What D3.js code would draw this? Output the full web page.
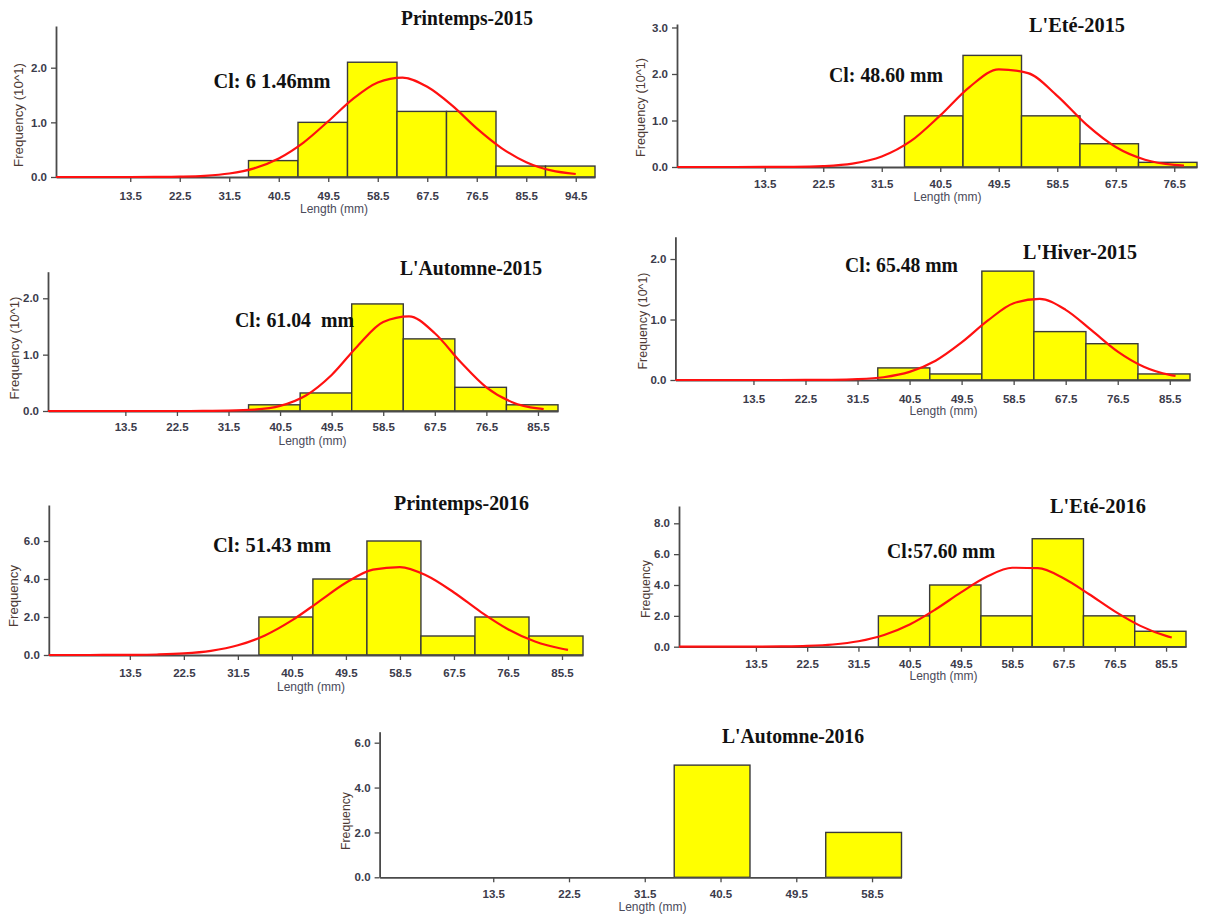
<!DOCTYPE html>
<html>
<head>
<meta charset="utf-8">
<script src="https://cdn.jsdelivr.net/npm/d3@7/dist/d3.min.js"></script>
<style>
  html, body { margin: 0; padding: 0; background: #ffffff; }
  svg { display: block; }
  .title, .cl { font-family: "Liberation Serif", "Times New Roman", serif; font-weight: bold; fill: #111; white-space: pre; }
  .axis text { font-family: "Liberation Sans", Arial, sans-serif; fill: #3b3b4b; }
  .ylab, .xlab { font-family: "Liberation Sans", Arial, sans-serif; }
</style>
</head>
<body>
<script>
// ---------------- DATA ----------------
const binEdges = [35, 44, 53, 62, 71, 80, 89, 98];

const titles = ["Printemps-2015", "L'Eté-2015", "L'Automne-2015", "L'Hiver-2015",
                "Printemps-2016", "L'Eté-2016", "L'Automne-2016"];
const clLabels = ["Cl: 6 1.46mm", "Cl: 48.60 mm", "Cl: 61.04  mm", "Cl: 65.48 mm",
                  "Cl: 51.43 mm", "Cl:57.60 mm", ""];
const yLabels = ["Frequency (10^1)", "Frequency (10^1)", "Frequency (10^1)", "Frequency (10^1)",
                 "Frequency", "Frequency", "Frequency"];
const xLabel = "Length (mm)";

// bar frequencies (bins of 9 mm starting at 35 mm)
const freqPrintemps2015 = [0.3, 1.0, 2.1, 1.2, 1.2, 0.2, 0.2];
const freqEte2015       = [1.1, 2.4, 1.1, 0.5, 0.1];
const freqAutomne2015   = [0.11, 0.32, 1.9, 1.28, 0.42, 0.11];
const freqHiver2015     = [0.2, 0.1, 1.8, 0.8, 0.6, 0.1];
const freqPrintemps2016 = [2, 4, 6, 1, 2, 1];
const freqEte2016       = [2, 4, 2, 7, 2, 1];
const freqAutomne2016   = [5, 0, 2];

// fitted normal curves ([length, frequency])
const curvePrintemps2015 = [[0,0],[4.5,0],[9,0],[13.5,0],[18,0.002],[22.5,0.007],[27,0.022],[31.5,0.064],[36,0.158],[40.5,0.34],[45,0.63],[49.5,1.02],[54,1.43],[58.5,1.73],[63,1.82],[67.5,1.65],[72,1.31],[76.5,0.89],[81,0.53],[85.5,0.27],[90,0.12],[94.5,0.055]];
const curveEte2015 = [[0,0],[4.5,0],[9,0],[13.5,0.001],[18,0.003],[22.5,0.018],[27,0.071],[31.5,0.225],[36,0.56],[40.5,1.11],[45,1.72],[49.5,2.10],[54,2.02],[58.5,1.53],[63,0.91],[67.5,0.43],[72,0.157],[76.5,0.046],[78,0.03]];
const curveAutomne2015 = [[0,0],[4.5,0],[9,0],[13.5,0],[18,0],[22.5,0],[27,0.001],[31.5,0.005],[36,0.023],[40.5,0.09],[45,0.275],[49.5,0.64],[54,1.15],[58.5,1.58],[63,1.68],[67.5,1.38],[72,0.87],[76.5,0.42],[81,0.157],[85.5,0.045],[86.5,0.033]];
const curveHiver2015 = [[0,0],[4.5,0],[9,0],[13.5,0],[18,0],[22.5,0.001],[27,0.003],[31.5,0.013],[36,0.046],[40.5,0.134],[45,0.318],[49.5,0.62],[54,0.98],[58.5,1.27],[63,1.34],[67.5,1.16],[72,0.82],[76.5,0.47],[81,0.22],[85.5,0.085],[86.5,0.067]];
const curvePrintemps2016 = [[0,0],[4.5,0],[9,0.002],[13.5,0.008],[18,0.027],[22.5,0.082],[27,0.22],[31.5,0.51],[36,1.03],[40.5,1.82],[45,2.81],[49.5,3.80],[54,4.49],[58.5,4.63],[63,4.17],[67.5,3.29],[72,2.26],[76.5,1.36],[81,0.71],[85.5,0.33],[86.5,0.27]];
const curveEte2016 = [[0,0],[4.5,0],[9,0.001],[13.5,0.004],[18,0.016],[22.5,0.051],[27,0.143],[31.5,0.352],[36,0.76],[40.5,1.44],[45,2.41],[49.5,3.52],[54,4.53],[58.5,5.12],[63,5.09],[67.5,4.44],[72,3.40],[76.5,2.29],[81,1.35],[85.5,0.70],[86.5,0.60]];
const curveAutomne2016 = [];

// tick values
const xTicksP1 = [13.5, 22.5, 31.5, 40.5, 49.5, 58.5, 67.5, 76.5, 85.5, 94.5];
const xTicksP2 = [13.5, 22.5, 31.5, 40.5, 49.5, 58.5, 67.5, 76.5];
const xTicksStd = [13.5, 22.5, 31.5, 40.5, 49.5, 58.5, 67.5, 76.5, 85.5];
const xTicksP7 = [13.5, 22.5, 31.5, 40.5, 49.5, 58.5];
const yTicksSmall = [0, 1, 2];
const yTicksP2 = [0, 1, 2, 3];
const yTicksP5 = [0, 2, 4, 6];
const yTicksP6 = [0, 2, 4, 6, 8];
const yTicksP7 = [0, 2, 4, 6];

const freqs = [freqPrintemps2015, freqEte2015, freqAutomne2015, freqHiver2015, freqPrintemps2016, freqEte2016, freqAutomne2016];
const curves = [curvePrintemps2015, curveEte2015, curveAutomne2015, curveHiver2015, curvePrintemps2016, curveEte2016, curveAutomne2016];
const xTicksAll = [xTicksP1, xTicksP2, xTicksStd, xTicksStd, xTicksStd, xTicksStd, xTicksP7];
const yTicksAll = [yTicksSmall, yTicksP2, yTicksSmall, yTicksSmall, yTicksP5, yTicksP6, yTicksP7];
const xMaxAll = [98, 80, 89, 89, 89, 89, 62];
const yMaxAll = [2.763, 3.075, 2.472, 2.369, 7.895, 9.122, 6.49];

// ---------------- LAYOUT ----------------
const layout = [
  {x0: 56,    x1: 595,  yBase: 177,   yTop: 26,    pad: 9.5,
   title: [401, 25, 132], cl: [213.5, 88, 117], ylab: [19, 115, 104], xlab: [334, 213]},
  {x0: 677,   x1: 1197, yBase: 167,   yTop: 24,    pad: 8,
   title: [1029, 31.5, 96], cl: [829, 82, 114], ylab: [641, 107.5, 99], xlab: [947.5, 201]},
  {x0: 48,    x1: 558,  yBase: 411,   yTop: 271.7, pad: 6.5,
   title: [400, 275, 142], cl: [235, 327, 119], ylab: [14.5, 348, 103], xlab: [312.5, 444.5]},
  {x0: 675.4, x1: 1190, yBase: 380,   yTop: 236.7, pad: 9.5,
   title: [1023, 259, 114], cl: [845, 272, 113], ylab: [643, 321, 97], xlab: [943.5, 415]},
  {x0: 48.8,  x1: 583,  yBase: 655,   yTop: 505,   pad: 9,
   title: [394, 510, 135], cl: [213, 552, 118], ylab: [13.5, 596, 62], xlab: [311, 691]},
  {x0: 679,   x1: 1186, yBase: 646.7, yTop: 506,   pad: 8.5,
   title: [1050, 513, 96], cl: [887, 558, 108], ylab: [646, 589, 58], xlab: [943.5, 680]},
  {x0: 379.6, x1: 901.5, yBase: 877.3, yTop: 731.7, pad: 7.5,
   title: [722, 743, 142], cl: null, ylab: [346, 821, 58], xlab: [652.5, 911]}
];

const W = 1208, H = 917;
const svg = d3.select("body").append("svg").attr("width", W).attr("height", H);
svg.append("rect").attr("width", W).attr("height", H).attr("fill", "#ffffff");

const fmt = d3.format(".1f");

layout.forEach((cfg, i) => {
  const x = d3.scaleLinear().domain([0, xMaxAll[i]]).range([cfg.x0, cfg.x1]);
  const y = d3.scaleLinear().domain([0, yMaxAll[i]]).range([cfg.yBase, cfg.yTop]);
  const g = svg.append("g");

  // bars
  const bars = freqs[i].map((v, k) => ({v, a: binEdges[k], b: binEdges[k + 1]})).filter(d => d.v > 0);
  g.selectAll("rect.bar").data(bars).join("rect")
    .attr("class", "bar")
    .attr("x", d => x(d.a))
    .attr("y", d => y(d.v))
    .attr("width", d => x(d.b) - x(d.a))
    .attr("height", d => y(0) - y(d.v))
    .attr("fill", "#ffff00")
    .attr("stroke", "#3a3a3a")
    .attr("stroke-width", 1.4);

  // x axis
  const gx = g.append("g").attr("class", "axis")
    .attr("transform", `translate(0,${cfg.yBase})`)
    .call(d3.axisBottom(x).tickValues(xTicksAll[i]).tickFormat(fmt).tickSize(5).tickSizeOuter(0).tickPadding(cfg.pad));
  // y axis
  const gy = g.append("g").attr("class", "axis")
    .attr("transform", `translate(${cfg.x0},0)`)
    .call(d3.axisLeft(y).tickValues(yTicksAll[i]).tickFormat(fmt).tickSize(5).tickSizeOuter(0).tickPadding(4));
  [gx, gy].forEach(a => {
    a.select(".domain").attr("stroke", "#4a4a4a").attr("stroke-width", 1.8);
    a.selectAll(".tick line").attr("stroke", "#4a4a4a").attr("stroke-width", 1.3);
    a.selectAll(".tick text").attr("font-size", "11.5px").attr("font-weight", "bold").attr("fill", "#45455a");
  });

  // normal curve
  if (curves[i].length) {
    g.append("path").datum(curves[i])
      .attr("fill", "none")
      .attr("stroke", "#ff1010")
      .attr("stroke-width", 2.2)
      .attr("stroke-linejoin", "round")
      .attr("d", d3.line().x(d => x(d[0])).y(d => y(d[1])).curve(d3.curveMonotoneX));
  }

  // axis titles
  g.append("text").attr("class", "ylab")
    .attr("transform", `translate(${cfg.ylab[0]},${cfg.ylab[1]}) rotate(-90)`)
    .attr("text-anchor", "middle").attr("dominant-baseline", "central")
    .attr("font-size", "12px").attr("fill", "#4d3a35")
    .attr("textLength", cfg.ylab[2]).attr("lengthAdjust", "spacingAndGlyphs")
    .text(yLabels[i]);
  g.append("text").attr("class", "xlab")
    .attr("x", cfg.xlab[0]).attr("y", cfg.xlab[1])
    .attr("text-anchor", "middle").attr("font-size", "12px").attr("fill", "#4a4a5a")
    .text(xLabel);

  // panel title
  g.append("text").attr("class", "title")
    .attr("x", cfg.title[0]).attr("y", cfg.title[1])
    .attr("font-size", "21px")
    .attr("textLength", cfg.title[2]).attr("lengthAdjust", "spacingAndGlyphs")
    .text(titles[i]);

  // Cl annotation
  if (cfg.cl && clLabels[i]) {
    g.append("text").attr("class", "cl")
      .attr("x", cfg.cl[0]).attr("y", cfg.cl[1])
      .attr("font-size", "20px")
      .attr("textLength", cfg.cl[2]).attr("lengthAdjust", "spacingAndGlyphs")
      .text(clLabels[i]);
  }
});
</script>
</body>
</html>
